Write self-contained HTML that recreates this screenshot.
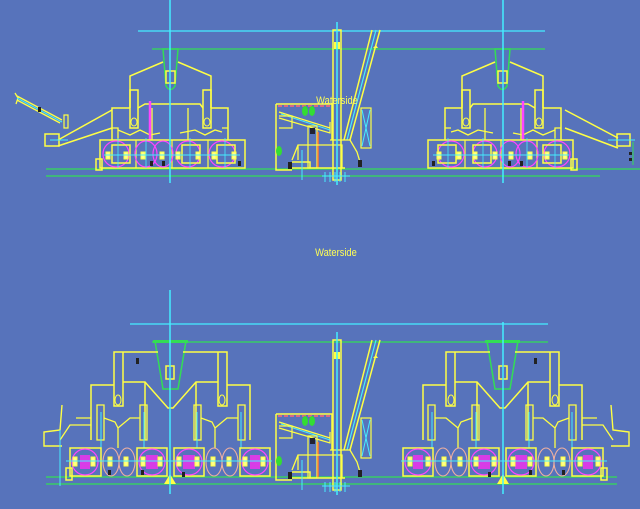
<!DOCTYPE html>
<html><head><meta charset="utf-8"><style>
html,body{margin:0;padding:0;background:#5773bb;}
svg{display:block}
</style></head><body>
<svg width="640" height="509" viewBox="0 0 640 509" xmlns="http://www.w3.org/2000/svg" fill="none" stroke-linejoin="miter">
<rect width="640" height="509" fill="#5773bb"/>
<defs>
<!-- Top machine core centered at x=170 -->
<g id="topm">
  <!-- hopper -->
  <path d="M163 49 L166 86 Q170.5 93 175 86 L178 49 Z" stroke="#33dd55" stroke-width="1.5"/>
  <rect x="166" y="71" width="9" height="12" stroke="#ffff44" stroke-width="1.5"/>
  <!-- arms -->
  <path d="M163 62 L130 76 L130 108 M178 62 L211 76 L211 108" stroke="#ffff44" stroke-width="1.5"/>
  <path d="M130 90 L138 90 L138 128 L130 128 Z M203 90 L211 90 L211 128 L203 128 Z" stroke="#ffff44" stroke-width="1.5"/>
  <ellipse cx="134" cy="122" rx="3" ry="4" stroke="#ffff44"/>
  <ellipse cx="207" cy="122" rx="3" ry="4" stroke="#ffff44"/>
  <!-- middle frame -->
  <path d="M112 140 L112 108 L130 108 M138 108 L145 104 L200 104 L203 108 M211 108 L228 108 L228 140" stroke="#ffff44" stroke-width="1.5"/>
  <path d="M112 128 L118 128 L118 140 M152 108 L152 140 M188 108 L188 140 M222 128 L228 128" stroke="#ffff44" stroke-width="1.3"/>
  <path d="M118 130 L130 135 L140 130 L150 135 L160 133 M180 133 L195 130 L205 135 L215 130 L222 132" stroke="#ffff44" stroke-width="1.3"/>
  <line x1="150" y1="101" x2="150" y2="140" stroke="#ff44ff" stroke-width="2.5"/>
  <!-- lower boxes -->
  <path d="M100 140 L245 140 L245 168 L100 168 Z" stroke="#ffff44" stroke-width="1.5"/>
  <path d="M136 140 L136 168 M172 140 L172 168 M208 140 L208 168" stroke="#ffff44" stroke-width="1.2"/>
  <g stroke="#ff44ff" stroke-width="1.2">
    <ellipse cx="116" cy="154" rx="13" ry="13"/>
    <ellipse cx="146" cy="154" rx="11" ry="13"/>
    <ellipse cx="163" cy="154" rx="10" ry="13"/>
    <ellipse cx="188" cy="154" rx="12" ry="13"/>
    <ellipse cx="222" cy="154" rx="13" ry="13"/>
  </g>
  <rect x="112" y="145" width="18" height="18" stroke="#ffff44" stroke-width="1.5"/>
  <rect x="182" y="145" width="18" height="18" stroke="#ffff44" stroke-width="1.5"/>
  <rect x="217" y="145" width="18" height="18" stroke="#ffff44" stroke-width="1.5"/>
  <g fill="#ffff88" stroke="#ffff44">
    <rect x="106" y="152" width="4" height="7"/><rect x="124" y="152" width="4" height="7"/>
    <rect x="141" y="152" width="4" height="7"/><rect x="160" y="152" width="4" height="7"/>
    <rect x="176" y="152" width="4" height="7"/><rect x="196" y="152" width="4" height="7"/>
    <rect x="212" y="152" width="4" height="7"/><rect x="232" y="152" width="4" height="7"/>
  </g>
  <path d="M104 155 L240 155" stroke="#44eeff" stroke-width="1"/>
  <path d="M118 138 L118 168 M146 138 L146 168 M190 138 L190 168 M225 138 L225 168" stroke="#44eeff" stroke-width="0.8"/>
  <g fill="#222">
    <rect x="150" y="161" width="3" height="5"/><rect x="162" y="161" width="3" height="5"/><rect x="238" y="161" width="3" height="5"/>
  </g>
  <rect x="96" y="159" width="6" height="11" stroke="#ffff44" stroke-width="1.5"/>
</g>
<!-- Bottom machine core centered at x=170 -->
<g id="botm">
  <path d="M155 341 L186 341 L178 389 L163 389 Z" stroke="#33dd55" stroke-width="1.5"/>
  <rect x="153" y="340" width="35" height="3" fill="#33dd55"/>
  <rect x="166" y="366" width="8" height="13" stroke="#ffff44" stroke-width="1.5"/>
  <path d="M158 352 L114 352 L114 406 L123 406 L123 352 M183 352 L227 352 L227 406 L218 406 L218 352" stroke="#ffff44" stroke-width="1.5"/>
  <ellipse cx="118" cy="400" rx="3" ry="5" stroke="#ffff44"/>
  <ellipse cx="222" cy="400" rx="3" ry="5" stroke="#ffff44"/>
  <path d="M123 382 L145 382 L168 408 L173 408 L196 382 L218 382" stroke="#ffff44" stroke-width="1.5"/>
  <path d="M114 385 L91 385 L91 440 M145 382 L145 440 M227 385 L250 385 L250 440 M196 382 L196 440" stroke="#ffff44" stroke-width="1.5"/>
  <path d="M97 405 L104 405 L104 440 L97 440 Z M140 405 L147 405 L147 440 L140 440 Z M194 405 L201 405 L201 440 L194 440 Z M238 405 L245 405 L245 440 L238 440 Z" stroke="#ffff44" stroke-width="1.3"/>
  <path d="M104 418 L115 422 L118 428 L118 448 M118 428 L130 418 L140 418 M201 418 L212 422 L215 428 L215 448 M215 428 L227 418 L238 418" stroke="#ffff44" stroke-width="1.3"/>
  <path d="M76 418 L91 418 M60 440 L70 425 L91 425" stroke="#ffff44" stroke-width="1.3"/>
  <g stroke="#44eeff" stroke-width="1"><path d="M101 412 L101 448 M144 412 L144 448 M197 412 L197 448 M241 412 L241 448"/></g>
  <!-- lower boxes -->
  <g stroke="#ffff44" stroke-width="1.5">
    <rect x="70" y="448" width="31" height="28"/><rect x="137" y="448" width="30" height="28"/>
    <rect x="174" y="448" width="30" height="28"/><rect x="240" y="448" width="30" height="28"/>
  </g>
  <g stroke="#ff44ff" stroke-width="1.2">
    <ellipse cx="85" cy="462" rx="13" ry="13"/><ellipse cx="152" cy="462" rx="13" ry="13"/>
    <ellipse cx="189" cy="462" rx="13" ry="13"/><ellipse cx="255" cy="462" rx="13" ry="13"/>
  </g>
  <g stroke="#f0b0a0" stroke-width="1.1">
    <ellipse cx="111" cy="462" rx="8" ry="14"/><ellipse cx="127" cy="462" rx="8" ry="14"/>
    <ellipse cx="214" cy="462" rx="8" ry="14"/><ellipse cx="230" cy="462" rx="8" ry="14"/>
  </g>
  <g fill="#ee33ee" opacity="0.85">
    <rect x="80" y="455" width="10" height="14"/><rect x="146" y="455" width="12" height="14"/>
    <rect x="183" y="455" width="12" height="14"/><rect x="250" y="455" width="10" height="14"/>
  </g>
  <g fill="#ffff88" stroke="#ffff44">
    <rect x="73" y="457" width="4" height="9"/><rect x="91" y="457" width="4" height="9"/>
    <rect x="108" y="457" width="4" height="9"/><rect x="124" y="457" width="4" height="9"/>
    <rect x="141" y="457" width="4" height="9"/><rect x="158" y="457" width="4" height="9"/>
    <rect x="177" y="457" width="4" height="9"/><rect x="195" y="457" width="4" height="9"/>
    <rect x="211" y="457" width="4" height="9"/><rect x="227" y="457" width="4" height="9"/>
    <rect x="243" y="457" width="4" height="9"/><rect x="261" y="457" width="4" height="9"/>
  </g>
  <path d="M66 461 L272 461" stroke="#44eeff" stroke-width="1"/>
  <g fill="#222"><rect x="136" y="358" width="3" height="6"/><rect x="108" y="470" width="3" height="5"/><rect x="141" y="470" width="3" height="5"/><rect x="182" y="472" width="3" height="5"/></g>
  <path d="M62 405 L60 430 L44 432 L44 446 L62 446" stroke="#ffff44" stroke-width="1.4"/>
  <rect x="66" y="468" width="6" height="12" stroke="#ffff44" stroke-width="1.5"/>
  <path d="M164 484 L170 474 L176 484 Z" fill="#ffff44"/>
</g>
<!-- crane at top -->
<g id="crane">
  <rect x="333" y="30" width="8" height="150" stroke="#ffff44" stroke-width="1.5"/>
  <rect x="334" y="42" width="6" height="7" fill="#ffff44"/>
  <path d="M372 30 L344 140 M380 30 L350 140" stroke="#ffff44" stroke-width="1.5"/>
  <line x1="376" y1="30" x2="347" y2="140" stroke="#44eeff" stroke-width="1.2"/>
  <path d="M376 45 L373 48 L378 48 Z" fill="#ffff44"/>
  <path d="M276 104 L332 104 L332 140 M276 104 L276 170 L292 170" stroke="#ffff44" stroke-width="1.5"/>
  <line x1="278" y1="106" x2="330" y2="106" stroke="#ff6677" stroke-width="1.5" stroke-dasharray="4 2"/>
  <path d="M279 112 L330 128 M279 118 L330 133 L330 122" stroke="#ffff44" stroke-width="1.2"/>
  <path d="M281 114 L330 130" stroke="#44eeff" stroke-width="1"/>
  <path d="M279 116 L292 116 L292 128 L279 128" stroke="#ffff44" stroke-width="1.2"/>
  <ellipse cx="305" cy="111" rx="3" ry="5" fill="#33dd33"/><ellipse cx="312" cy="111" rx="3" ry="5" fill="#33dd33"/>
  <ellipse cax="279" cx="279" cy="151" rx="3" ry="5" fill="#33dd33"/>
  <rect x="308" y="126" width="9" height="42" stroke="#ffff44" stroke-width="1.2"/>
  <rect x="310" y="128" width="5" height="6" fill="#223"/>
  <line x1="318" y1="132" x2="318" y2="168" stroke="#ff7733" stroke-width="1.5"/>
  <path d="M292 160 L298 145 L342 145 L342 168 M298 145 L298 160 M330 140 L350 140 L357 152 L360 162" stroke="#ffff44" stroke-width="1.3"/>
  <rect x="361" y="108" width="10" height="40" stroke="#ffff44" stroke-width="1.2"/>
  <path d="M362 110 L370 146 M370 110 L362 146" stroke="#44eeff"/>
  <path d="M290 168 L345 168 M292 162 L310 162 L310 168" stroke="#ffff44" stroke-width="1.5"/>
  <rect x="288" y="162" width="4" height="7" fill="#222"/><rect x="358" y="160" width="4" height="7" fill="#222"/>
  <path d="M322 176 L350 176 M325 172 L325 182 M330 172 L330 182 M335 172 L335 182 M340 172 L340 182 M345 172 L345 182" stroke="#44eeff" stroke-width="1"/>
  <line x1="337" y1="22" x2="337" y2="185" stroke="#44eeff" stroke-width="1.5"/>
  <line x1="302" y1="150" x2="302" y2="180" stroke="#44eeff" stroke-width="1"/>
</g>
</defs>

<!-- ============ TOP ============ -->
<line x1="138" y1="31" x2="545" y2="31" stroke="#44eeff" stroke-width="1.3"/>
<line x1="152" y1="49" x2="545" y2="49" stroke="#33dd55" stroke-width="1.3"/>
<line x1="46" y1="169" x2="640" y2="169" stroke="#33dd55" stroke-width="1.3"/>
<line x1="46" y1="176" x2="600" y2="176" stroke="#33dd55" stroke-width="1.3"/>
<use href="#topm"/>
<use href="#topm" transform="translate(673 0) scale(-1 1)"/>
<line x1="170" y1="0" x2="170" y2="183" stroke="#44eeff" stroke-width="1.5"/>
<line x1="503" y1="0" x2="503" y2="183" stroke="#44eeff" stroke-width="1.5"/>
<!-- left conveyor -->
<path d="M17 96 L62 120 M17 100 L60 123 M15 93 L18 98 L16 104" stroke="#ffff44" stroke-width="1.3"/>
<line x1="17" y1="98" x2="62" y2="122" stroke="#44eeff" stroke-width="1"/>
<rect x="38" y="107" width="3" height="5" fill="#222"/>
<path d="M64 115 L68 115 L68 128 L64 128 Z" stroke="#ffff44" stroke-width="1.2"/>
<path d="M58 140 L112 110 M58 146 L112 128" stroke="#ffff44" stroke-width="1.5"/>
<rect x="45" y="134" width="14" height="12" stroke="#ffff44" stroke-width="1.5"/>
<line x1="50" y1="140" x2="68" y2="140" stroke="#44eeff"/>
<!-- right conveyor -->
<path d="M565 110 L618 138 M565 128 L618 148" stroke="#ffff44" stroke-width="1.5"/>
<rect x="617" y="134" width="13" height="12" stroke="#ffff44" stroke-width="1.5"/>
<line x1="608" y1="140" x2="635" y2="140" stroke="#44eeff"/>
<path d="M633 142 L633 165" stroke="#33dd55"/>
<g fill="#222"><rect x="629" y="152" width="3" height="3"/><rect x="629" y="158" width="3" height="3"/></g>
<use href="#crane"/>
<text x="337" y="104" font-family="Liberation Sans, sans-serif" font-size="11" fill="#ffff55" text-anchor="middle" transform="translate(337 0) scale(0.85 1) translate(-337 0)">Waterside</text>

<text x="336" y="256" font-family="Liberation Sans, sans-serif" font-size="11" fill="#ffff55" text-anchor="middle" transform="translate(336 0) scale(0.85 1) translate(-336 0)">Waterside</text>

<!-- ============ BOTTOM ============ -->
<line x1="130" y1="324" x2="548" y2="324" stroke="#44eeff" stroke-width="1.3"/>
<line x1="152" y1="342" x2="548" y2="342" stroke="#33dd55" stroke-width="1.3"/>
<line x1="46" y1="477" x2="617" y2="477" stroke="#33dd55" stroke-width="1.3"/>
<line x1="46" y1="484" x2="617" y2="484" stroke="#33dd55" stroke-width="1.3"/>
<use href="#botm"/>
<use href="#botm" transform="translate(673 0) scale(-1 1)"/>
<line x1="170" y1="290" x2="170" y2="494" stroke="#44eeff" stroke-width="1.5"/>
<line x1="503" y1="322" x2="503" y2="494" stroke="#44eeff" stroke-width="1.5"/>
<line x1="60" y1="430" x2="60" y2="486" stroke="#44eeff" stroke-width="1"/>
<use href="#crane" transform="translate(0 310)"/>
</svg>
</body></html>
